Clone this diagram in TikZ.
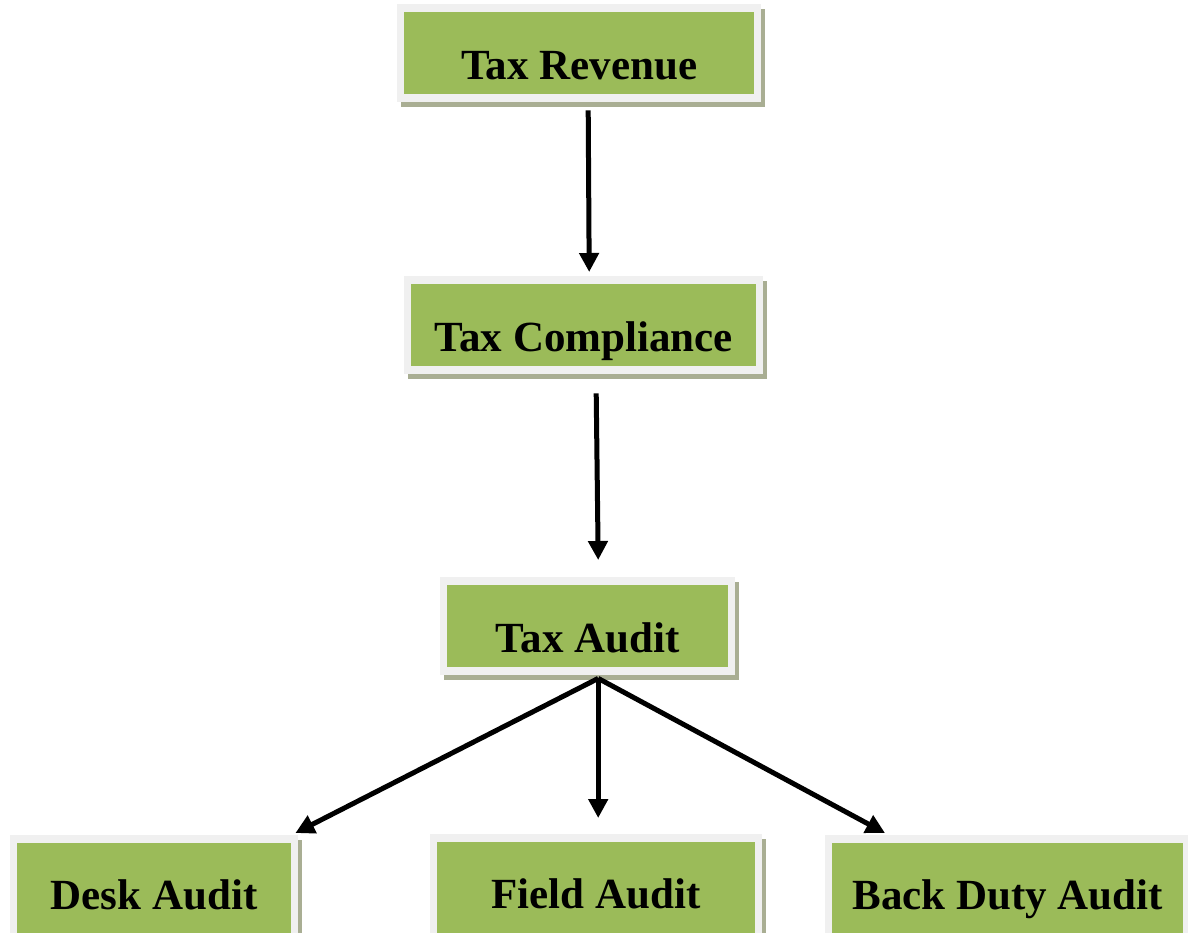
\documentclass[tikz,border=0pt]{standalone}
\usepackage{fontspec}
\setmainfont{Liberation Serif}
\usetikzlibrary{arrows.meta}
\definecolor{boxgreen}{HTML}{9BBB59}
\definecolor{framegray}{HTML}{F0F0F0}
\definecolor{shadowgray}{HTML}{A9AE93}
\tikzset{
  greenbox/.style={fill=boxgreen, inner sep=0pt, anchor=north west,
    font=\fontsize{43}{50}\selectfont\bfseries},
  flowarrow/.style={line width=5pt, -{Triangle[length=19pt,width=19pt]}}
}
% #1 name, #2 x1, #3 y1, #4 x2, #5 y2 (green area), #6 baseline, #7 text
\newcommand{\flowbox}[7]{%
  \pgfmathsetmacro\bxw{#4-#2}%
  \pgfmathsetmacro\bxh{#6-#3}%
  \pgfmathsetmacro\bxd{#5-#6}%
  \fill[shadowgray] (#2-3,#3-3) rectangle (#4+11,#5+13);
  \fill[framegray] (#2-7,#3-8) rectangle (#4+7,#5+8);
  \node[greenbox, minimum width=\bxw pt, text height=\bxh pt, text depth=\bxd pt] (#1) at (#2,#3) {#7};
}
\begin{document}
\begin{tikzpicture}[x=1pt,y=-1pt]
\useasboundingbox (0,0) rectangle (1188,932);
\clip (0,0) rectangle (1188,932);
\fill[white] (0,0) rectangle (1188,932);
\flowbox{rev}{404}{12}{754}{94}{79}{Tax Revenue}
\flowbox{comp}{411}{284}{756}{366}{351}{Tax Compliance}
\flowbox{audit}{447}{585}{728}{667}{652}{Tax Audit}
\flowbox{desk}{17}{843}{291}{950}{909}{Desk Audit}
\flowbox{field}{437}{842}{755}{950}{908}{Field Audit}
\flowbox{back}{832}{843}{1183}{950}{909}{Back Duty Audit}
\coordinate (fork) at ([xshift=10.5pt,yshift=-11pt]audit.south);
\draw[flowarrow] ([xshift=9pt,yshift=-16pt]rev.south) -- ([xshift=5.5pt,yshift=12pt]comp.north);
\draw[flowarrow] ([xshift=12.5pt,yshift=-27pt]comp.south) -- ([xshift=10.5pt,yshift=25pt]audit.north);
\draw[flowarrow] (fork) -- ([xshift=4pt,yshift=10pt]desk.north east);
\draw[flowarrow] (fork) -- ([xshift=2pt,yshift=24pt]field.north);
\draw[flowarrow] (fork) -- ([xshift=53pt,yshift=10pt]back.north west);
\end{tikzpicture}
\end{document}
